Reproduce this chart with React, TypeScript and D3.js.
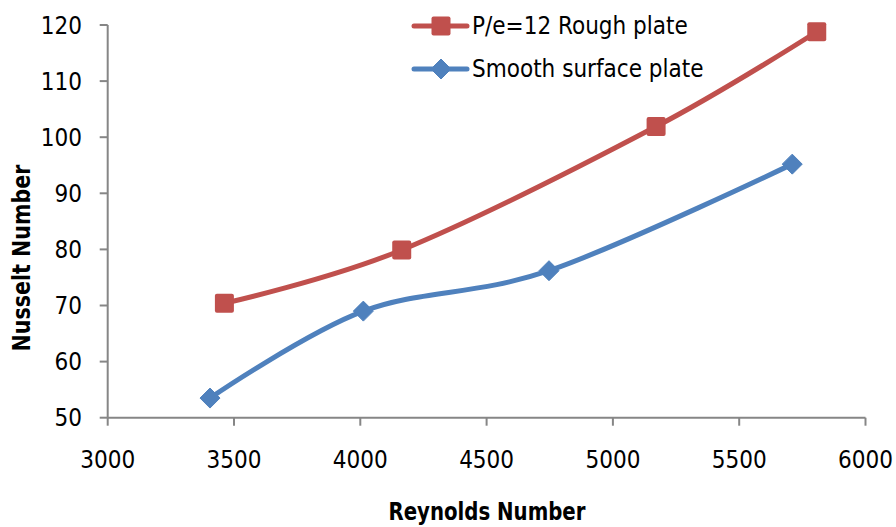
import React from "react";
import * as d3 from "d3";

const roughRe = [3462, 4164, 5171, 5807];
const roughNu = [70.4, 79.9, 101.9, 118.8];
const smoothRe = [3405, 4012, 4747, 5710];
const smoothNu = [53.5, 69.0, 76.2, 95.2];
const xTicks = [3000, 3500, 4000, 4500, 5000, 5500, 6000];
const yTicks = [50, 60, 70, 80, 90, 100, 110, 120];
const seriesNames = ["P/e=12 Rough plate", "Smooth surface plate"];
const xTitle = "Reynolds Number";
const yTitle = "Nusselt Number";

const W = 896;
const H = 527;
const FONT = "'Liberation Sans Narrow', 'DejaVu Sans Condensed', 'Roboto', sans-serif";
const RED = "#C0504D";
const BLUE = "#4F81BD";
const AXIS = "#868686";

export default function App() {
  const x = d3.scaleLinear().domain([3000, 6000]).range([107.7, 865.5]);
  const y = d3.scaleLinear().domain([50, 120]).range([417.7, 25]);
  const line = d3
    .line<[number, number]>()
    .x((d) => x(d[0]))
    .y((d) => y(d[1]))
    .curve(d3.curveCatmullRom.alpha(0));

  const rough: [number, number][] = roughRe.map((r, i) => [r, roughNu[i]]);
  const smooth: [number, number][] = smoothRe.map((r, i) => [r, smoothNu[i]]);
  const sq = 19;
  const dm = 10;
  const diamond = (cx: number, cy: number) =>
    `M${cx},${cy - dm}L${cx + dm},${cy}L${cx},${cy + dm}L${cx - dm},${cy}Z`;

  return (
    <svg
      width={W}
      height={H}
      style={{ position: "absolute", left: 0, top: 0, background: "#fff" }}
      fontFamily={FONT}
    >
      {/* axes */}
      <line x1={x(3000)} x2={x(3000)} y1={y(120)} y2={y(50)} stroke={AXIS} strokeWidth={2} />
      <line x1={x(3000)} x2={x(6000)} y1={y(50)} y2={y(50)} stroke={AXIS} strokeWidth={2} />
      {yTicks.map((t) => (
        <g key={"y" + t}>
          <line x1={x(3000) - 8} x2={x(3000)} y1={y(t)} y2={y(t)} stroke={AXIS} strokeWidth={2} />
          <text x={82} y={y(t)} dy="0.36em" textAnchor="end" fontSize={24} fill="#000">
            {t}
          </text>
        </g>
      ))}
      {xTicks.map((t) => (
        <g key={"x" + t}>
          <line x1={x(t)} x2={x(t)} y1={y(50)} y2={y(50) + 8} stroke={AXIS} strokeWidth={2} />
          <text x={x(t)} y={468} textAnchor="middle" fontSize={24} fill="#000">
            {t}
          </text>
        </g>
      ))}
      {/* titles */}
      <text
        x={487}
        y={520}
        textAnchor="middle"
        fontSize={25}
        fontWeight="bold"
        textLength={197}
        lengthAdjust="spacingAndGlyphs"
      >
        {xTitle}
      </text>
      <text
        transform={`translate(30,258) rotate(-90)`}
        textAnchor="middle"
        fontSize={25}
        fontWeight="bold"
        textLength={187}
        lengthAdjust="spacingAndGlyphs"
      >
        {yTitle}
      </text>
      {/* series */}
      <path d={line(smooth) || ""} fill="none" stroke={BLUE} strokeWidth={5} strokeLinecap="round" />
      <path d={line(rough) || ""} fill="none" stroke={RED} strokeWidth={5} strokeLinecap="round" />
      {smooth.map((d, i) => (
        <path key={"s" + i} d={diamond(x(d[0]), y(d[1]))} fill={BLUE} stroke={BLUE} strokeWidth={1} strokeLinejoin="round" />
      ))}
      {rough.map((d, i) => (
        <rect
          key={"r" + i}
          x={x(d[0]) - sq / 2}
          y={y(d[1]) - sq / 2}
          width={sq}
          height={sq}
          rx={2}
          fill={RED}
        />
      ))}
      {/* legend */}
      <line x1={414} x2={467} y1={26} y2={26} stroke={RED} strokeWidth={5} strokeLinecap="round" />
      <rect x={441 - sq / 2} y={26 - sq / 2} width={sq} height={sq} rx={2} fill={RED} />
      <text x={472} y={34} fontSize={24} fill="#000">
        {seriesNames[0]}
      </text>
      <line x1={414} x2={467} y1={69} y2={69} stroke={BLUE} strokeWidth={5} strokeLinecap="round" />
      <path d={diamond(441, 69)} fill={BLUE} stroke={BLUE} strokeWidth={1} strokeLinejoin="round" />
      <text x={472} y={77} fontSize={24} fill="#000">
        {seriesNames[1]}
      </text>
    </svg>
  );
}
